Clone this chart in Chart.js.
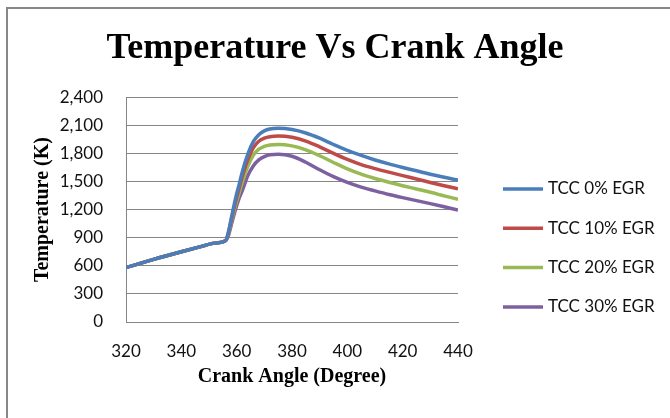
<!DOCTYPE html>
<html>
<head>
<meta charset="utf-8">
<script src="https://cdn.jsdelivr.net/npm/chart.js@4/dist/chart.umd.min.js"></script>
<style>
  html, body { margin: 0; padding: 0; background: #fff; }
  #wrap { width: 670px; height: 418px; position: relative; }
</style>
</head>
<body>
<div id="wrap"><canvas id="tempChart" width="670" height="418"></canvas></div>
<script>
// crank angle (deg)
const angles = [320, 330, 340, 347, 352, 356, 357, 358, 359, 360, 361, 362, 364, 366, 368, 370, 372,
                375, 380, 385, 390, 395, 400, 405, 410, 415, 420, 425, 430, 435, 440];

// temperature (K)
const egr0  = [580, 668, 750, 805, 842, 869, 960, 1100, 1240, 1370, 1480, 1600, 1790, 1925, 2000, 2040, 2060,
               2068, 2055, 2018, 1962, 1895, 1832, 1778, 1730, 1688, 1650, 1614, 1578, 1545, 1515];
const egr10 = [580, 668, 750, 805, 842, 869, 950, 1080, 1210, 1330, 1440, 1550, 1730, 1860, 1930, 1962, 1978,
               1985, 1972, 1932, 1870, 1800, 1735, 1680, 1638, 1600, 1563, 1527, 1490, 1455, 1422];
const egr20 = [580, 668, 750, 805, 842, 869, 940, 1060, 1180, 1290, 1390, 1490, 1660, 1780, 1845, 1875, 1890,
               1895, 1880, 1838, 1775, 1703, 1635, 1578, 1532, 1492, 1455, 1420, 1385, 1347, 1310];
const egr30 = [580, 668, 750, 805, 842, 869, 920, 1030, 1140, 1240, 1330, 1400, 1560, 1665, 1730, 1765, 1785,
               1790, 1770, 1705, 1625, 1552, 1490, 1440, 1400, 1362, 1328, 1296, 1264, 1230, 1195];

const seriesNames = ['TCC 0% EGR', 'TCC 10% EGR', 'TCC 20% EGR', 'TCC 30% EGR'];
const seriesColors = ['#4a7ebb', '#be4b48', '#98b954', '#7d60a0'];

function pts(vals) {
  return angles.map((a, i) => ({ x: a, y: vals[i] }));
}

const frame = {
  id: 'frame',
  beforeDraw(chart) {
    const ctx = chart.ctx;
    ctx.save();
    ctx.fillStyle = '#fff';
    ctx.fillRect(0, 0, chart.width, chart.height);
    ctx.strokeStyle = '#878787';
    ctx.lineWidth = 2;
    ctx.strokeRect(7, 8, chart.width + 20, chart.height + 20);
    ctx.restore();
  }
};

// legend drawn next to the plot, Excel style
const sideLegend = {
  id: 'sideLegend',
  afterDraw(chart) {
    const ctx = chart.ctx;
    const area = chart.chartArea;
    const x0 = area.right + 45;
    ctx.save();
    ctx.font = '17px Lato';
    ctx.textBaseline = 'middle';
    chart.data.datasets.forEach((ds, i) => {
      const y = 189 + i * 39.3;
      ctx.strokeStyle = ds.borderColor;
      ctx.lineWidth = 3.5;
      ctx.beginPath();
      ctx.moveTo(x0, y);
      ctx.lineTo(x0 + 40, y);
      ctx.stroke();
      ctx.fillStyle = '#111';
      ctx.fillText(ds.label, x0 + 45, y);
    });
    ctx.restore();
  }
};

const ctx = document.getElementById('tempChart').getContext('2d');
const tempChart = new Chart(ctx, {
  type: 'line',
  data: {
    datasets: [egr0, egr10, egr20, egr30].map((v, i) => ({
      label: seriesNames[i],
      data: pts(v),
      borderColor: seriesColors[i],
      backgroundColor: seriesColors[i],
      borderWidth: 3.5,
      pointRadius: 0,
      cubicInterpolationMode: 'monotone',
      fill: false
    }))
  },
  options: {
    responsive: false,
    animation: false,
    layout: { padding: { left: 0, top: 0, right: 0, bottom: 26 } },
    plugins: {
      legend: { display: false },
      tooltip: { enabled: false },
      title: {
        display: true,
        text: 'Temperature Vs Crank Angle',
        color: '#000',
        font: { family: 'Liberation Serif', size: 36, weight: 'bold' },
        padding: { top: 27, bottom: 27 }
      }
    },
    scales: {
      x: {
        type: 'linear',
        min: 320,
        max: 440,
        ticks: { stepSize: 20, color: '#111', padding: 19, font: { family: 'Lato', size: 17 } },
        grid: { display: false, drawTicks: false },
        border: { display: true, color: '#868686', width: 1 },
        title: {
          display: true,
          text: 'Crank Angle (Degree)',
          color: '#000',
          font: { family: 'Liberation Serif', size: 20, weight: 'bold' },
          padding: { top: 0, bottom: 3 }
        },
        afterFit(scale) { scale.height = 70; }
      },
      y: {
        min: 0,
        max: 2400,
        ticks: {
          stepSize: 300,
          color: '#111',
          padding: 23,
          font: { family: 'Lato', size: 17 },
          callback: v => v.toLocaleString('en-US')
        },
        grid: { color: '#868686', lineWidth: 1, drawTicks: false },
        border: { display: true, color: '#868686', width: 1 },
        title: {
          display: true,
          text: 'Temperature (K)',
          color: '#000',
          font: { family: 'Liberation Serif', size: 20, weight: 'bold' },
          padding: { top: 31, bottom: 0 }
        },
        afterFit(scale) { scale.width = 126; }
      },
      // empty right-hand axis that only reserves room for the legend
      side: {
        position: 'right',
        min: 0,
        max: 1,
        ticks: { display: false },
        grid: { display: false, drawTicks: false },
        border: { display: false },
        afterFit(scale) { scale.width = 212; }
      }
    }
  },
  plugins: [frame, sideLegend]
});
</script>
</body>
</html>
